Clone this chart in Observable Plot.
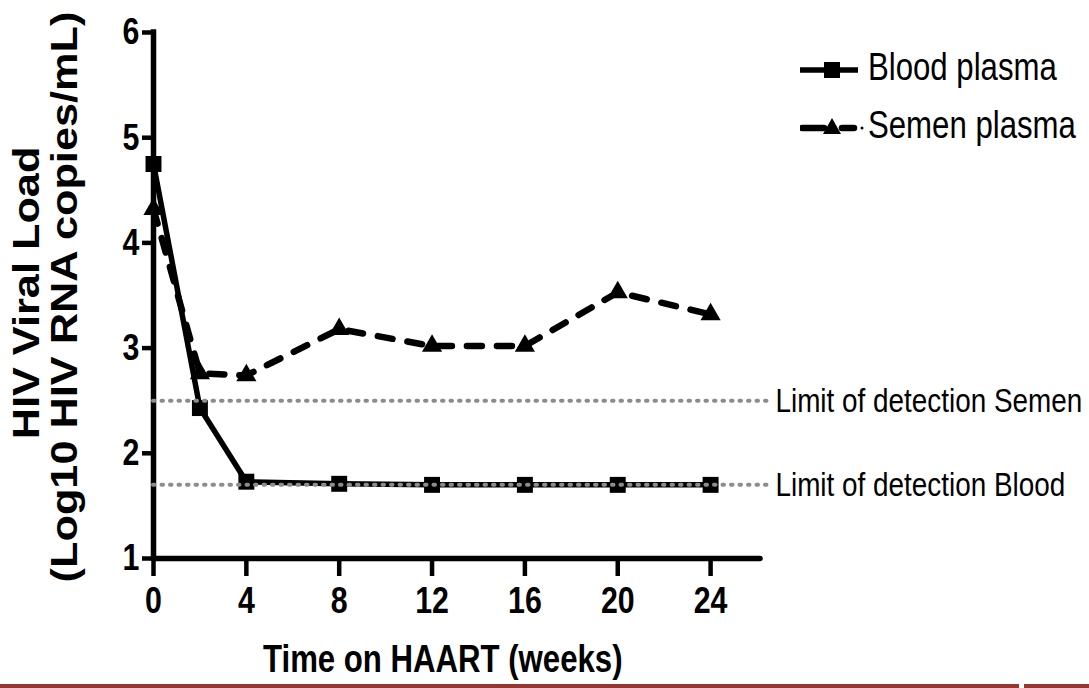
<!DOCTYPE html>
<html>
<head>
<meta charset="utf-8">
<script src="https://cdn.jsdelivr.net/npm/d3@7"></script>
<script src="https://cdn.jsdelivr.net/npm/@observablehq/plot@0.6"></script>
<style>
  html, body { margin: 0; padding: 0; background: #fff; }
  #wrap { position: relative; width: 1089px; height: 688px; overflow: hidden; background: #fff; }
  #wrap svg.plot { position: absolute; left: 0; top: 0; }
  .ytitle { position: absolute; font-family: "Liberation Sans", Arial, sans-serif; font-weight: bold; font-size: 37px; line-height: 1; white-space: nowrap; color: #000; }
  .narrow { font-family: "Liberation Sans", Arial, sans-serif; transform-origin: 0 0; transform: scaleX(0.82); }
  .xtitle { position: absolute; left: 263px; top: 640px; font-weight: bold; font-size: 38px; line-height: 1; white-space: nowrap; color:#000; }
  .leg { position: absolute; left: 800px; height: 40px; }
  .leg span { position: absolute; left: 68px; top: 0; font-size: 38px; line-height: 1; white-space: nowrap; color:#000; }
  .leg svg { position: absolute; left: 0; top: 0; }
  .bar { position: absolute; top: 684px; height: 4px; background: #953735; }
</style>
</head>
<body>
<div id="wrap"></div>
<script>
// ---- data ----
const weeks = [0, 2, 4, 8, 12, 16, 20, 24];
const bloodPlasma = [4.75, 2.43, 1.73, 1.71, 1.70, 1.70, 1.70, 1.70];
const semenPlasma = [4.32, 2.76, 2.74, 3.18, 3.02, 3.02, 3.53, 3.32];
const limitLabels = ["Limit of detection Semen", "Limit of detection Blood"];
const limitValues = [2.5, 1.7];
const xTicks = [0, 4, 8, 12, 16, 20, 24];
const yTicks = [1, 2, 3, 4, 5, 6];
const seriesNames = ["Blood plasma", "Semen plasma"];

const blood = weeks.map((w, i) => ({week: w, value: bloodPlasma[i]}));
const semen = weeks.map((w, i) => ({week: w, value: semenPlasma[i]}));
const limits = limitLabels.map((l, i) => ({label: l, value: limitValues[i]}));

const font = '"Liberation Sans", Arial, sans-serif';
const xEnd = 26.15;      // end of the drawn x axis line
const limitEnd = 26.45;  // end of the dotted detection-limit lines

const chart = Plot.plot({
  width: 1089,
  height: 688,
  marginLeft: 153,
  marginRight: 329,
  marginTop: 32,
  marginBottom: 130,
  x: {domain: [0, xEnd]},
  y: {domain: [1, 6]},
  style: {fontFamily: font, background: "transparent", color: "#000", overflow: "visible"},
  marks: [
    Plot.axisX({ticks: xTicks, tickFormat: d => String(d), tickSize: 18, tickPadding: 10, strokeWidth: 4.5, fontSize: 37, fontWeight: "bold", label: null}),
    Plot.axisY({ticks: yTicks, tickFormat: d => String(d), tickSize: 11, tickPadding: 3, strokeWidth: 4.5, fontSize: 37, fontWeight: "bold", label: null}),
    Plot.ruleY([1], {strokeWidth: 5.5, stroke: "#000", strokeLinecap: "round"}),
    Plot.ruleX([0], {strokeWidth: 5.5, stroke: "#000", strokeLinecap: "square"}),
    Plot.line(semen, {x: "week", y: "value", stroke: "#000", strokeWidth: 6.5, strokeDasharray: "15,15", strokeLinecap: "round"}),
    Plot.dot(semen, {x: "week", y: "value", symbol: "triangle", r: 7.5, fill: "#000", stroke: null}),
    Plot.line(blood, {x: "week", y: "value", stroke: "#000", strokeWidth: 5.5}),
    Plot.dot(blood, {x: "week", y: "value", symbol: "square", r: 9, fill: "#000", stroke: null}),
    Plot.ruleY(limits, {y: "value", x1: 0, x2: limitEnd, stroke: "#8c8c8c", strokeWidth: 4, strokeDasharray: "1.5,7", strokeLinecap: "round"}),
    Plot.text(limits, {x: limitEnd, y: "value", text: "label", textAnchor: "start", dx: 8, fontSize: 34, fill: "#000"})
  ]
});
chart.classList.add("plot");
// condense all svg text horizontally (narrow-font look)
chart.querySelectorAll("text").forEach(t => {
  const xa = t.getAttribute("x");
  let tx = 0;
  if (xa !== null && !isNaN(+xa)) { tx = +xa; t.removeAttribute("x"); }
  const tr = t.getAttribute("transform") || "";
  t.setAttribute("transform", `${tr} translate(${tx},0) scale(0.82,1)`);
});
const wrap = document.getElementById("wrap");
wrap.appendChild(chart);

// y-axis title (two rotated lines)
function yTitle(txt, cx, cy) {
  const d = document.createElement("div");
  d.className = "ytitle";
  d.textContent = txt;
  d.style.left = cx + "px"; d.style.top = cy + "px";
  d.style.transform = "translate(-50%,-50%) rotate(-90deg) scaleX(1.17)";
  wrap.appendChild(d);
}
yTitle("HIV Viral Load", 26, 293);
yTitle("(Log10 HIV RNA copies/mL)", 64, 297);

// x-axis title
const xt = document.createElement("div");
xt.className = "xtitle narrow";
xt.textContent = "Time on HAART (weeks)";
wrap.appendChild(xt);

// legend
function legendItem(name, top, dashed) {
  const d = document.createElement("div");
  d.className = "leg";
  d.style.top = top + "px";
  const sw = dashed
    ? '<svg width="66" height="40"><path d="M2,22 H24 M42,22 H54" stroke="#000" stroke-width="6.5" stroke-linecap="round"/><circle cx="62" cy="22" r="1.5" fill="#000"/><path d="M32,12 L41,28 L23,28 Z" fill="#000"/></svg>'
    : '<svg width="66" height="40"><path d="M0,22 H58" stroke="#000" stroke-width="5.5"/><rect x="24" y="14" width="16" height="16" fill="#000"/></svg>';
  d.innerHTML = sw + '<span class="narrow">' + name + '</span>';
  wrap.appendChild(d);
}
legendItem(seriesNames[0], 48, false);
legendItem(seriesNames[1], 106, true);

// decorative page rule at bottom
const b1 = document.createElement("div"); b1.className = "bar"; b1.style.left = "0px"; b1.style.width = "1019px"; wrap.appendChild(b1);
const b2 = document.createElement("div"); b2.className = "bar"; b2.style.left = "1024px"; b2.style.width = "65px"; wrap.appendChild(b2);
</script>
</body>
</html>
